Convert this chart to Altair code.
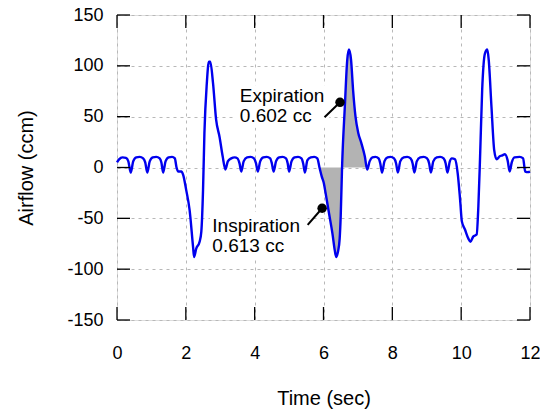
import altair as alt
import pandas as pd

# Airflow waveform (time in s, flow in ccm)
time = [0.00, 0.06, 0.16, 0.26, 0.33, 0.40, 0.47, 0.56, 0.66, 0.76, 0.82, 0.88,
        0.95, 1.04, 1.14, 1.24, 1.29, 1.34, 1.41, 1.50, 1.60, 1.68, 1.73, 1.78,
        1.87, 1.92, 2.01, 2.11, 2.21, 2.24, 2.30, 2.40, 2.45, 2.50, 2.54, 2.61,
        2.67, 2.71, 2.79, 2.88, 2.98, 3.07, 3.15,
        3.22, 3.32, 3.42, 3.50, 3.56, 3.61, 3.68, 3.78, 3.88, 3.98, 4.04, 4.09,
        4.16, 4.25, 4.35, 4.45, 4.50, 4.55, 4.62, 4.71, 4.81, 4.91, 4.96, 5.00,
        5.07, 5.16, 5.26, 5.36, 5.41, 5.46, 5.53, 5.63, 5.73, 5.82, 5.89, 5.95,
        6.01, 6.06, 6.16, 6.26, 6.33, 6.37, 6.42, 6.47, 6.50, 6.54, 6.62, 6.69,
        6.74, 6.80, 6.86, 6.93, 7.01, 7.10, 7.20, 7.27,
        7.34, 7.42, 7.51, 7.60, 7.65, 7.70, 7.77, 7.86, 7.95, 8.05, 8.11, 8.16,
        8.23, 8.33, 8.43, 8.53, 8.59, 8.64, 8.71, 8.81, 8.91, 9.01, 9.07, 9.12,
        9.19, 9.29, 9.39, 9.49, 9.55, 9.60, 9.67, 9.73, 9.82, 9.90, 9.97, 10.02,
        10.11, 10.21, 10.27, 10.35, 10.45, 10.50, 10.55, 10.61, 10.69, 10.76,
        10.80, 10.88, 10.96, 11.03, 11.12, 11.20, 11.27, 11.35, 11.41, 11.47,
        11.55, 11.70, 11.80, 11.86, 11.94, 12.00]
flow = [5, 8, 10, 9.5, 6, -5, 6, 10, 10.5, 9, 5, -5,
        6, 10, 10.5, 9, 5, -5, 6, 10, 10.5, 9, 0, -4,
        -4, -7, -22, -42, -78, -88, -80, -73, -63, -22, 34, 83,
        104, 104, 83, 47, 30, 11, -2,
        6, 9, 10, 9, 4, -4, 6, 10, 10.5, 9, 4, -4,
        6, 10, 10.5, 9, 4, -4, 6, 10, 10.5, 9, 4, -4,
        6, 10, 10.5, 9, 4, -5, 7, 10, 10.5, 9, -1, -9,
        -15.5, -25, -45, -65, -82, -88, -83, -70, -48, 1, 60, 106,
        116, 106, 76, 50, 34, 24, 11, -2,
        6, 10, 10.5, 9, 4, -5, 6, 10, 10.5, 9, 4, -5,
        6, 10, 10.5, 9, 4, -5, 6, 10, 10.5, 9, 4, -5,
        6, 10, 10.5, 9, 4, -5, 6, 9, 8, -6, -32, -53,
        -61, -70, -73, -68, -66, -38, 11, 76, 112, 116,
        106, 60, 17, 8, 11, 12, 13, 7, -4, 5,
        10, 10.5, 9, -4, -4.5, -4]

x_ticks = [0, 2, 4, 6, 8, 10, 12]
y_ticks = [-150, -100, -50, 0, 50, 100, 150]

# shaded breath (integrated volume)
shade_start, shade_end = 5.89, 7.27

# annotations
label_t = [3.57, 3.57, 2.77, 2.77]
label_v = [64.4, 44.3, -63.9, -83.6]
label_text = ["Expiration", "0.602 cc", "Inspiration", "0.613 cc"]
dot_t = [6.48, 5.96]
dot_v = [64.1, -40.1]
lead_t = [6.03, 5.54]
lead_v = [49.4, -56.5]
# white boxes behind the annotation texts
box_t = [3.45, 2.70]
box_t2 = [6.17, 5.54]
box_v = [81.0, -43.8]
box_v2 = [39.0, -88.0]

W, H = 413, 305
FONT = "Liberation Sans"
TICK = 13

df = pd.DataFrame({"t": time, "v": flow})
shade = df[(df.t >= shade_start) & (df.t <= shade_end)]
labels = pd.DataFrame({"t": label_t, "v": label_v, "label": label_text})
leaders = pd.DataFrame({"t": dot_t, "v": dot_v, "t2": lead_t, "v2": lead_v})
boxes = pd.DataFrame({"t": box_t, "t2": box_t2, "v": box_v, "v2": box_v2})
xt = pd.DataFrame({"t": x_ticks})
yt = pd.DataFrame({"v": y_ticks})

xs = alt.Scale(domain=[0, 12], nice=False, zero=False)
ys = alt.Scale(domain=[-150, 150], nice=False, zero=False)

x_axis = alt.Axis(
    values=x_ticks, title="Time (sec)", grid=True, ticks=False, domain=False,
    labelPadding=24, titlePadding=26, labelFontSize=18, titleFontSize=20,
    labelFont=FONT, titleFont=FONT, labelColor="black", titleColor="black",
    titleFontWeight="normal", gridDash=[3, 4], gridColor="#b8b8b8", gridWidth=1,
    labelFlush=False, labelExpr="'' + datum.value")
y_axis = alt.Axis(
    values=y_ticks, title="Airflow (ccm)", grid=True, ticks=False, domain=False,
    labelPadding=14, titlePadding=30, labelFontSize=18, titleFontSize=20,
    labelFont=FONT, titleFont=FONT, labelColor="black", titleColor="black",
    titleFontWeight="normal", gridDash=[3, 4], gridColor="#b8b8b8", gridWidth=1,
    labelFlush=False, labelExpr="'' + datum.value")

X = alt.X("t:Q", scale=xs, axis=x_axis)
Y = alt.Y("v:Q", scale=ys, axis=y_axis)

bg = alt.Chart(boxes).mark_rect(color="white", opacity=1).encode(
    x=X, x2="t2:Q", y=Y, y2="v2:Q")

line = alt.Chart(df).mark_line(color="#0000ee", strokeWidth=2.4, interpolate="monotone").encode(
    x=X, y=Y)

area = alt.Chart(shade).mark_area(color="#b3b3b3", opacity=1, interpolate="monotone").encode(
    x=X, y=Y, y2=alt.datum(0))

tick_style = dict(color="black", strokeWidth=1.3)
bottom = alt.Chart(xt).mark_rule(**tick_style).encode(
    x=X, y=alt.value(H), y2=alt.value(H - TICK))
top = alt.Chart(xt).mark_rule(**tick_style).encode(
    x=X, y=alt.value(0), y2=alt.value(TICK))
left = alt.Chart(yt).mark_rule(**tick_style).encode(
    y=Y, x=alt.value(0), x2=alt.value(TICK))
right = alt.Chart(yt).mark_rule(**tick_style).encode(
    y=Y, x=alt.value(W), x2=alt.value(W - TICK))

lead = alt.Chart(leaders).mark_rule(color="black", strokeWidth=2).encode(
    x=X, y=Y, x2="t2:Q", y2="v2:Q")
dots = alt.Chart(leaders).mark_circle(color="black", size=90, opacity=1).encode(
    x=X, y=Y)
text = alt.Chart(labels).mark_text(align="left", baseline="alphabetic", fontSize=19,
                                   font=FONT, color="black").encode(
    x=X, y=Y, text="label:N")

chart = alt.layer(bg, area, line, lead, dots, text, bottom, top, left, right).properties(
    width=W, height=H,
    autosize=alt.AutoSizeParams(type="none"),
    padding={"left": 109, "top": 7, "right": 10, "bottom": 92},
).configure_view(stroke="black", strokeWidth=1.3).configure(background="white")

chart.save("out.html", embed_options={"renderer": "svg", "actions": False})
